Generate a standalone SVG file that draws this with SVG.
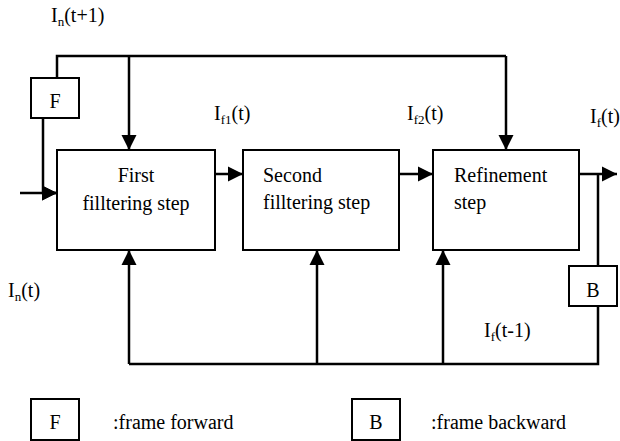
<svg xmlns="http://www.w3.org/2000/svg" width="620" height="441" viewBox="0 0 620 441">
<style>
.box{fill:#fff;stroke:#000;stroke-width:2}
.ln{fill:none;stroke:#000;stroke-width:2.5}
.ar{fill:none;stroke:#000;stroke-width:2.5;marker-end:url(#ah)}
</style>
<defs>
<marker id="ah" markerUnits="userSpaceOnUse" markerWidth="16" markerHeight="16" viewBox="0 0 16 16" refX="15" refY="8" orient="auto">
<path d="M0,0.5 L15,8 L0,15.5 Z" fill="#000"/>
</marker>
</defs>
<rect width="620" height="441" fill="#fff"/>
<g id="connectors">
<polyline class="ln" points="57,78 57,56 506,56"/>
<line class="ar" x1="129" y1="56" x2="129" y2="150"/>
<line class="ar" x1="506" y1="56" x2="506" y2="150"/>
<polyline class="ar" points="43,118 43,193 57,193"/>
<line class="ar" x1="20" y1="193" x2="57" y2="193"/>
<line class="ar" x1="215" y1="174" x2="243" y2="174"/>
<line class="ar" x1="399" y1="174" x2="433" y2="174"/>
<line class="ar" x1="579" y1="174" x2="617" y2="174"/>
<line class="ln" x1="598" y1="174" x2="598" y2="266"/>
<polyline class="ln" points="598,306 598,364 129,364"/>
<line class="ar" x1="129" y1="364" x2="129" y2="250"/>
<line class="ar" x1="317" y1="364" x2="317" y2="250"/>
<line class="ar" x1="443" y1="364" x2="443" y2="250"/>
</g>
<g id="box-F">
<rect class="box" x="31" y="78" width="48" height="40"/>
<text font-family="Liberation Serif" font-size="20" style="font-family:Liberation Serif" x="55" y="108" text-anchor="middle">F</text>
</g>
<g id="box-first">
<rect class="box" x="57" y="150" width="158" height="100"/>
<text font-family="Liberation Serif" font-size="20" style="font-family:Liberation Serif" x="136" y="182" text-anchor="middle">First</text>
<text font-family="Liberation Serif" font-size="20" style="font-family:Liberation Serif" x="136" y="210" text-anchor="middle">filltering step</text>
</g>
<g id="box-second">
<rect class="box" x="243" y="150" width="156" height="100"/>
<text font-family="Liberation Serif" font-size="20" style="font-family:Liberation Serif" x="263" y="182">Second</text>
<text font-family="Liberation Serif" font-size="20" style="font-family:Liberation Serif" x="263" y="209">filltering step</text>
</g>
<g id="box-refine">
<rect class="box" x="433" y="150" width="146" height="100"/>
<text font-family="Liberation Serif" font-size="20" style="font-family:Liberation Serif" x="454" y="182">Refinement</text>
<text font-family="Liberation Serif" font-size="20" style="font-family:Liberation Serif" x="454" y="209">step</text>
</g>
<g id="box-B">
<rect class="box" x="569" y="266" width="48" height="40"/>
<text font-family="Liberation Serif" font-size="20" style="font-family:Liberation Serif" x="593" y="297" text-anchor="middle">B</text>
</g>
<g id="labels">
<text font-family="Liberation Serif" font-size="20" style="font-family:Liberation Serif" x="51" y="22">I<tspan font-size="13" dy="4">n</tspan><tspan dy="-4">(t+1)</tspan></text>
<text font-family="Liberation Serif" font-size="20" style="font-family:Liberation Serif" x="214" y="120">I<tspan font-size="13" dy="4">f1</tspan><tspan dy="-4">(t)</tspan></text>
<text font-family="Liberation Serif" font-size="20" style="font-family:Liberation Serif" x="407" y="120">I<tspan font-size="13" dy="4">f2</tspan><tspan dy="-4">(t)</tspan></text>
<text font-family="Liberation Serif" font-size="20" style="font-family:Liberation Serif" x="590" y="123">I<tspan font-size="13" dy="4">f</tspan><tspan dy="-4">(t)</tspan></text>
<text font-family="Liberation Serif" font-size="20" style="font-family:Liberation Serif" x="8" y="297">I<tspan font-size="13" dy="4">n</tspan><tspan dy="-4">(t)</tspan></text>
<text font-family="Liberation Serif" font-size="20" style="font-family:Liberation Serif" x="484" y="337">I<tspan font-size="13" dy="4">f</tspan><tspan dy="-4">(t-1)</tspan></text>
</g>
<g id="legend">
<rect class="box" x="31" y="399" width="48" height="41"/>
<text font-family="Liberation Serif" font-size="20" style="font-family:Liberation Serif" x="55" y="429" text-anchor="middle">F</text>
<text font-family="Liberation Serif" font-size="20" style="font-family:Liberation Serif" x="113" y="429">:frame forward</text>
<rect class="box" x="352" y="399" width="48" height="41"/>
<text font-family="Liberation Serif" font-size="20" style="font-family:Liberation Serif" x="376" y="429" text-anchor="middle">B</text>
<text font-family="Liberation Serif" font-size="20" style="font-family:Liberation Serif" x="431" y="429">:frame backward</text>
</g>
</svg>
